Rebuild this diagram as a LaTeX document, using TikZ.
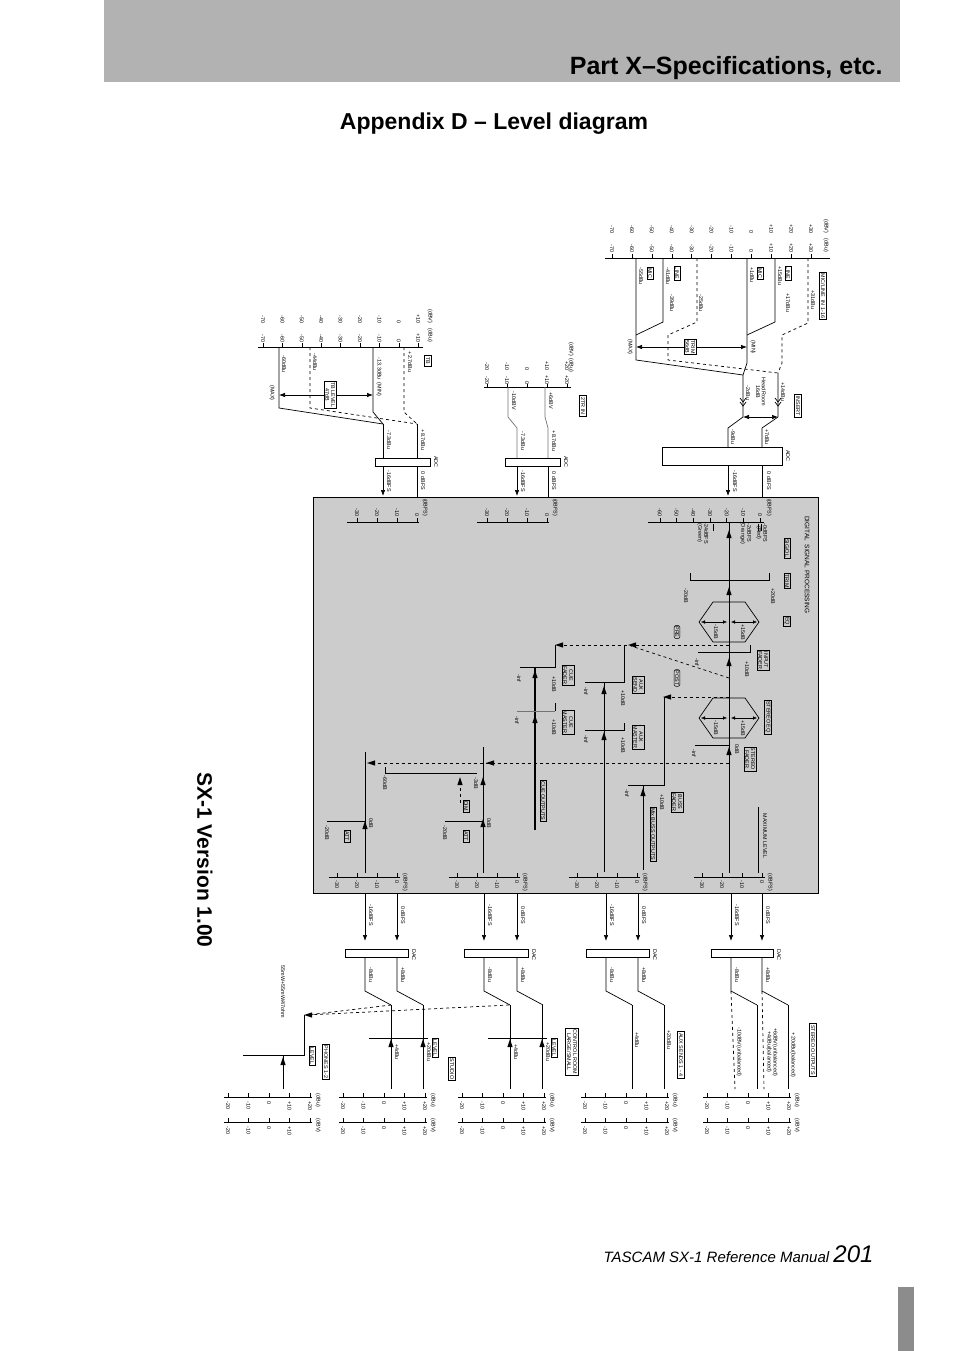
\documentclass[tikz,border=0pt]{standalone}
\usepackage{fontspec}
\setmainfont{Liberation Sans}
\usetikzlibrary{arrows.meta}
\tikzset{
  lbl/.style={rotate=-90,font=\fontsize{5.4}{5.8}\selectfont,inner sep=0.6pt,align=center},
  tagbox/.style={lbl,draw,line width=0.5pt,inner sep=1pt},
  headbox/.style={lbl,draw,line width=1pt,inner sep=1.6pt},
  sig/.style={line width=0.7pt},
  dsig/.style={line width=0.7pt,dashed},
  tip/.style={-{Latex[length=6pt,width=4.5pt]}},
}
\newcommand\uptip[2]{\fill (#1-2.6,#2+4)--(#1,#2-4)--(#1+2.6,#2+4)--cycle;}
\newcommand\lefttip[2]{\fill (#1+4,#2-2.6)--(#1-4,#2)--(#1+4,#2+2.6)--cycle;}
\begin{document}
\begin{tikzpicture}[x=1pt,y=-1pt]
\useasboundingbox (0,0) rectangle (954,1351);
% page frame
\fill[black!30] (104,0) rectangle (900,82);
\node[anchor=base east,font=\fontsize{25}{28}\selectfont\bfseries] (parttitle) at (886,75) {Part X–Specifications, etc.};
\node[font=\fontsize{23}{26}\selectfont\bfseries] (apptitle) at (494,124) {Appendix D – Level diagram};
\node[rotate=-90,font=\fontsize{21}{24}\selectfont\bfseries] (version) at (205,860) {SX-1 Version 1.00};
\node[anchor=base east] (footer) at (877,1262) {\fontsize{15}{18}\selectfont\itshape TASCAM SX-1 \upshape\itshape Reference Manual \fontsize{24}{26}\selectfont 201};
\fill[black!45] (898,1287) rectangle (914,1351);
% DSP area
\fill[black!20] (313,497) rectangle (818,893);
\draw[line width=0.5pt] (313,497) rectangle (818,893);
\node[lbl,font=\fontsize{6.5}{7}\selectfont] (dsptitle) at (807,565) {DIGITAL\ \ SIGNAL PROCESSING};

% ---- MIC/LINE input scale
\draw[sig] (605,258)--(830,258);
\foreach \v [count=\i from 0] in {-70,-60,-50,-40,-30,-20,-10,0,+10,+20,+30}{
  \draw (612+19.9*\i,254)--(612+19.9*\i,258);
  \node[lbl,anchor=east] at (612+19.9*\i,234) {\v};
  \node[lbl,anchor=east] at (612+19.9*\i,253) {\v};
}
\node[lbl,anchor=east] at (826,234) {(dBV)};
\node[lbl,anchor=east] at (826,253) {(dBu)};
\node[headbox] (micline) at (823,296) {MIC/LINE\ \ IN 1-16};
% level paths
\draw[sig] (636,258)--(636,360)--(743,375);
\draw[sig] (663,258)--(663,322)--(636,335);
\draw[dsig] (697,258)--(697,322)--(668,335)--(668,360)--(778,373);
\draw[sig] (747,258)--(747,363)--(743,375);
\draw[sig] (775,258)--(775,322)--(747,335);
\draw[dsig] (808,258)--(808,323)--(782,335)--(782,363)--(778,373);
\draw[sig] (743,375)--(743,417)--(728,428)--(728,447);
\draw[sig] (778,373)--(778,417)--(762,428)--(762,447);
\foreach \x in {743,778}{
  \draw[sig] (\x-3,398)--(\x,402)--(\x+3,398) (\x-3,402)--(\x,406)--(\x+3,402);
}
\draw[{Latex[length=6pt,width=4.5pt]}-{Latex[length=6pt,width=4.5pt]},sig] (743,417)--(778,417);
\draw[{Latex[length=6pt,width=4.5pt]}-{Latex[length=6pt,width=4.5pt]},sig] (636,347)--(747,347);
\node[tagbox,fill=white] (trim) at (690,347) {TRIM\\56dB};
\node[lbl] at (630,347) {(MAX)};
\node[lbl] at (753,347) {(MIN)};
\node[lbl] at (641,276) {-55dBu};
\node[tagbox] at (650,273) {MIC};
\node[lbl] at (668,276) {-41dBu};
\node[tagbox] at (677,273) {LINE};
\node[lbl] at (672,303) {-39dBu};
\node[lbl] at (701,303) {-25dBu};
\node[lbl] at (752,275) {+1dBu};
\node[tagbox] at (760,273) {MIC};
\node[lbl] at (780,276) {+15dBu};
\node[tagbox] at (788,273) {LINE};
\node[lbl] at (788,303) {+17dBu};
\node[lbl] at (813,300) {+31dBu};
\node[lbl] at (748,393) {-2dBu};
\node[lbl] at (761,392) {Head Room\\16dB};
\node[lbl] at (783,392) {+14dBu};
\node[headbox] (insert) at (798,406) {INSERT};
\node[lbl] at (733,437) {-9dBu};
\node[lbl] at (767,437) {+7dBu};
\draw[line width=0.6pt,fill=white] (662,447) rectangle (782,465);
\node[lbl] at (788,456) {ADC};
\draw[sig,tip] (728,465)--(728,496);
\draw[sig] (762,465)--(762,497);
\node[lbl] at (735,481) {-16dBFS};
\node[lbl] at (769,481) {0 dBFS};

% ---- TB input
\draw[sig] (258,347)--(423,347);
\foreach \v [count=\i from 0] in {-70,-60,-50,-40,-30,-20,-10,0,+10}{
  \draw (263+19.4*\i,343)--(263+19.4*\i,347);
  \node[lbl,anchor=east] at (263+19.4*\i,324) {\v};
  \node[lbl,anchor=east] at (263+19.4*\i,343) {\v};
}
\node[lbl,anchor=east] at (430,324) {(dBV)};
\node[lbl,anchor=east] at (430,343) {(dBu)};
\node[headbox] (tb) at (428,361) {TB};
\draw[sig] (279,347)--(279,408)--(383,424);
\draw[dsig] (310,347)--(310,408)--(417,424);
\draw[sig] (373,347)--(373,412)--(383,424);
\draw[dsig] (404,347)--(404,412)--(417,424);
\draw[sig] (383,424)--(383,458);
\draw[sig] (417,424)--(417,458);
\draw[{Latex[length=6pt,width=4.5pt]}-{Latex[length=6pt,width=4.5pt]},sig] (279,395)--(373,395);
\node[tagbox,fill=white] (tblevel) at (330,395) {TB LEVEL\\47dB};
\node[lbl] at (284,364) {-60dBu};
\node[lbl] at (272,393) {(MAX)};
\node[lbl] at (315,362) {-44dBu};
\node[lbl] at (379,377) {-13.3dBu\ \ (MIN)};
\node[lbl] at (410,362) {+2.7dBu};
\node[lbl] at (389,440) {-7.3dBu};
\node[lbl] at (423,440) {+8.7dBu};
\draw[line width=0.6pt,fill=white] (375,458) rectangle (430,466);
\node[lbl] at (436,462) {ADC};
\draw[sig,tip] (383,466)--(383,496);
\draw[sig] (417,466)--(417,497);
\node[lbl] at (389,481) {-16dBFS};
\node[lbl] at (423,481) {0 dBFS};

% ---- 2TR IN
\draw[sig] (484,387)--(571,387);
\foreach \v [count=\i from 0] in {-20,-10,0,+10,+20}{
  \draw (487+20*\i,384)--(487+20*\i,387);
  \node[lbl,anchor=east] at (487+20*\i,371) {\v};
  \node[lbl,anchor=east] at (487+20*\i,385) {\v};
}
\node[lbl,anchor=east] at (571,357) {(dBV)};
\node[lbl,anchor=east] at (571,373) {(dBu)};
\node[headbox] (twotr) at (583,406) {2TR IN};
\draw[sig,black!55] (508,387)--(508,417)--(517,428)--(517,458);
\draw[sig,black!55] (545,387)--(545,417)--(548,428)--(548,458);
\node[lbl] at (514,401) {-10dBV};
\node[lbl] at (551,401) {+6dBV};
\node[lbl] at (523,441) {-7.3dBu};
\node[lbl] at (554,441) {+8.7dBu};
\draw[line width=0.6pt,fill=white] (505,458) rectangle (560,466);
\node[lbl] at (566,462) {ADC};
\draw[sig,tip] (517,466)--(517,496);
\draw[sig] (548,466)--(548,497);
\node[lbl] at (523,481) {-16dBFS};
\node[lbl] at (554,481) {0 dBFS};

% ---- DSP input scales
\draw[sig] (648,522)--(764,522);
\foreach \v [count=\i from 0] in {0,-10,-20,-30,-40,-50,-60}{
  \draw (760-16.7*\i,522)--(760-16.7*\i,518);
  \node[lbl,anchor=east] at (760-16.7*\i,517) {\v};
}
\node[lbl,anchor=east] at (769,517) {(dBFS)};
\draw (758,524)--(758,531) (761,524)--(761,531) (713,524)--(713,531);
\node[lbl,anchor=north] at (768,533) {-0dBFS\\(Red)};
\node[lbl,anchor=north] at (752,533) {-2dBFS\\(Orange)};
\node[lbl,anchor=north] at (709,533) {-24dBFS\\(Green)};
\foreach \o in {417,547}{
  \draw[sig] (\o-70,522)--(\o+2,522);
  \foreach \v [count=\i from 0] in {0,-10,-20,-30}{
    \draw (\o-20*\i,522)--(\o-20*\i,518);
    \node[lbl,anchor=east] at (\o-20*\i,517) {\v};
  }
  \node[lbl,anchor=east] at (\o+8,517) {(dBFS)};
}

% ---- DSP input channel
\draw[sig] (729,522)--(729,873);
\foreach \y in {534,591,662,751}{\uptip{729}{\y}}
\node[tagbox] (sigol) at (787,548) {SIG/OL};
\node[tagbox] (trimd) at (787,581) {TRIM};
\node[tagbox] (eq) at (787,621) {EQ};
\draw[sig] (690,573)--(690,580)--(769,580)--(769,573);
\node[lbl] at (686,596) {-20dB};
\node[lbl] at (773,596) {+20dB};
\foreach \yc in {622,718}{
  \draw[sig] (699,\yc)--(713,\yc-20)--(745,\yc-20)--(759,\yc)--(745,\yc+20)--(713,\yc+20)--cycle;
  \draw[{Latex[length=4pt,width=3.5pt]}-{Latex[length=4pt,width=3.5pt]}] (701,\yc)--(727,\yc);
  \draw[{Latex[length=4pt,width=3.5pt]}-{Latex[length=4pt,width=3.5pt]}] (731,\yc)--(757,\yc);
  \node[lbl] at (716,\yc+10) {-15dB};
  \node[lbl] at (743,\yc+10) {+15dB};
}
% input fader
\draw[sig] (698,652)--(750,652)--(750,645);
\node[lbl] at (747,669) {+10dB};
\node[lbl] at (697,662) {-inf};
\node[tagbox] (infader) at (763,660) {INPUT\\FADER};
\node[tagbox,rounded corners=2pt] (pre) at (677,632) {PRE};
\node[tagbox,rounded corners=2pt] (post) at (677,678) {POST};
% aux / cue sends
\draw[dsig] (729,645)--(557,645);
\draw[dsig] (729,678)--(631,646);
\lefttip{632}{645}
\lefttip{559}{645}
\draw[sig] (624,645)--(624,682)--(585,682);
\draw[sig] (604,872)--(604,682);
\uptip{604}{690}\uptip{604}{736}
\draw[sig] (585,730)--(624,730)--(624,723);
\node[lbl] at (623,698) {+10dB};
\node[lbl] at (586,691) {-inf};
\node[tagbox] (auxsend) at (638,685) {AUX\\SEND};
\node[lbl] at (623,745) {+10dB};
\node[lbl] at (586,739) {-inf};
\node[tagbox] (auxmaster) at (638,737) {AUX\\MASTER};
\draw[sig] (555,645)--(555,667)--(520,667);
\draw[line width=1.3pt] (535,830)--(535,667);
\uptip{535}{674}\uptip{535}{719}
\draw[sig,black!55] (517,711)--(555,711);
\draw[sig] (555,711)--(555,703);
\node[lbl] at (554,684) {+10dB};
\node[lbl] at (519,678) {-inf};
\node[tagbox] (cuefader) at (568,675) {CUE\\FADER};
\node[lbl] at (554,727) {+10dB};
\node[lbl] at (517,720) {-inf};
\node[tagbox] (cuemaster) at (568,722) {CUE\\MASTER};
\node[tagbox] (cueout) at (543,801) {CUE OUTPUTS};
% buss
\draw[dsig] (729,697)--(666,697);
\lefttip{667}{697}
\draw[sig] (664,697)--(664,785)--(628,785);
\draw[sig] (643,870)--(643,785);
\uptip{643}{792}
\node[lbl] at (662,802) {+10dB};
\node[lbl] at (627,793) {-inf};
\node[tagbox] (bussfader) at (677,802) {BUSS\\FADER};
\node[tagbox] (mixbuss) at (653,834) {Mix BUSS OUTPUTS};
% stereo
\node[tagbox] (stereoeq) at (768,717) {STEREO EQ};
\draw[sig] (695,745)--(729,745);
\node[lbl] at (737,749) {0dB};
\node[lbl] at (694,753) {-inf};
\node[tagbox] (stereofader) at (750,759) {STEREO\\FADER};
\node[lbl] at (765,836) {MAXIMUM LEVEL};
\draw[sig] (758,807)--(758,873);
% monitor
\draw[dsig] (729,763)--(369,763);
\lefttip{490}{763}\lefttip{371}{763}
\draw[sig] (483,747)--(483,873);
\uptip{483}{781}\uptip{483}{823}
\draw[sig] (385,767)--(385,773)--(477,773);
\node[lbl] at (476,783) {-3dB};
\node[lbl] at (385,783) {-60dB};
\draw[dsig] (460,782)--(460,805);
\uptip{460}{781}
\node[tagbox] (dim) at (466,806) {DIM};
\draw[sig] (445,821)--(483,821);
\node[lbl] at (489,823) {0dB};
\node[lbl] at (445,833) {-20dB};
\node[tagbox] (attcr) at (466,836) {ATT};
\draw[sig] (365,752)--(365,873);
\uptip{365}{825}
\draw[sig] (327,821)--(365,821);
\node[lbl] at (371,823) {0dB};
\node[lbl] at (327,833) {-20dB};
\node[tagbox] (attph) at (347,836) {ATT};

% ---- DSP output scales
\foreach \o in {762,637,517,397}{
  \draw[sig] (\o-68,877)--(\o+3,877);
  \foreach \v [count=\i from 0] in {0,-10,-20,-30}{
    \draw (\o-20*\i,877)--(\o-20*\i,873);
    \node[lbl,anchor=west] at (\o-20*\i,880) {\v};
  }
  \node[lbl,anchor=west] at (\o+8,873) {(dBFS)};
}

% ---- DAC outputs
\foreach \a/\b in {731/762,606/638,484/517,365/397}{
  \draw[sig,tip] (\a,893)--(\a,941);
  \draw[sig,tip] (\b,893)--(\b,941);
  \node[lbl] at (\a+6,915) {-16dBFS};
  \node[lbl] at (\b+6,915) {0 dBFS};
  \draw[line width=0.6pt,fill=white] (\a-20,949) rectangle (\b+11,957);
  \node[lbl] at (\b+17,955) {DAC};
  \node[lbl] at (\a+6,975) {-8dBu};
  \node[lbl] at (\b+6,975) {+8dBu};
  \draw[sig] (\a,957)--(\a,991)--(\a+26,1005);
  \draw[sig] (\b,957)--(\b,991)--(\b+26,1005);
}
% stereo outputs
\draw[sig] (757,1005)--(757,1089);
\draw[sig] (788,1005)--(788,1089);
\draw[dsig] (731,991)--(735,1089);
\draw[dsig] (762,991)--(764,1089);
\node[lbl] at (739,1052) {-10dBV(unbalanced)};
\node[lbl] at (772,1052) {+6dBV(unbalanced)\\+4dBu(balanced)};
\node[lbl] at (793,1055) {+20dBu(balanced)};
\node[headbox] (stereoout) at (813,1050) {STEREO OUTPUTS};
% aux outputs
\draw[sig] (632,1005)--(632,1089);
\draw[sig] (664,1005)--(664,1089);
\node[lbl] at (637,1040) {+4dBu};
\node[lbl] at (669,1040) {+20dBu};
\node[headbox] (auxout) at (681,1055) {AUX SENDS 1 - 4};
% control room / studio
\foreach \a/\b in {510/542,391/423}{
  \draw[sig] (\a,1005)--(\a,1038);
  \draw[sig] (\b,1005)--(\b,1038);
  \draw[sig] (\a-22,1038)--(\b+5,1038);
  \draw[sig] (\a,1089)--(\a,1038) (\b,1089)--(\b,1038);
  \uptip{\a}{1043}\uptip{\b}{1043}
  \node[lbl] at (\a+6,1052) {+4dBu};
  \node[lbl] at (\b+6,1052) {+20dBu};
}
\node[tagbox] (crlevel) at (554,1048) {LEVEL};
\node[headbox] (crout) at (572,1052) {CONTROL ROOM\\LARGE/SMALL};
\node[tagbox] (stlevel) at (435,1048) {LEVEL};
\node[headbox] (studioout) at (452,1069) {STUDIO};
% phones
\draw[dsig] (509,1005)--(307,1015);
\draw[dsig] (391,1005)--(307,1015);
\lefttip{308}{1015}
\draw[sig] (304,1015)--(304,1055)--(243,1055);
\draw[sig] (283,1089)--(283,1055);
\uptip{283}{1061}
\node[lbl] at (283,992) {55mW+55mW/47ohm};
\node[tagbox] (phlevel) at (312,1056) {LEVEL};
\node[headbox] (phout) at (326,1062) {PHONES 1-2};

% ---- output scales
\foreach \o in {707,585,462,343,228}{
  \draw[sig] (\o-4,1097)--(\o+84,1097);
  \draw[sig] (\o-4,1122)--(\o+84,1122);
  \foreach \v [count=\i from 0] in {-20,-10,0,+10,+20}{
    \draw (\o+20.5*\i,1093)--(\o+20.5*\i,1097);
    \draw (\o+20.5*\i,1118)--(\o+20.5*\i,1122);
    \node[lbl,anchor=west] at (\o+20.5*\i,1101) {\v};
  }
  \node[lbl,anchor=west] at (\o+90,1093) {(dBu)};
  \node[lbl,anchor=west] at (\o+90,1118) {(dBV)};
}
\foreach \o in {707,585,462,343}{
  \foreach \v [count=\i from 0] in {-20,-10,0,+10,+20}{
    \node[lbl,anchor=west] at (\o+20.5*\i,1126) {\v};
  }
}
\foreach \v [count=\i from 0] in {-20,-10,0,+10}{
  \node[lbl,anchor=west] at (228+20.5*\i,1126) {\v};
}
\end{tikzpicture}
\end{document}
